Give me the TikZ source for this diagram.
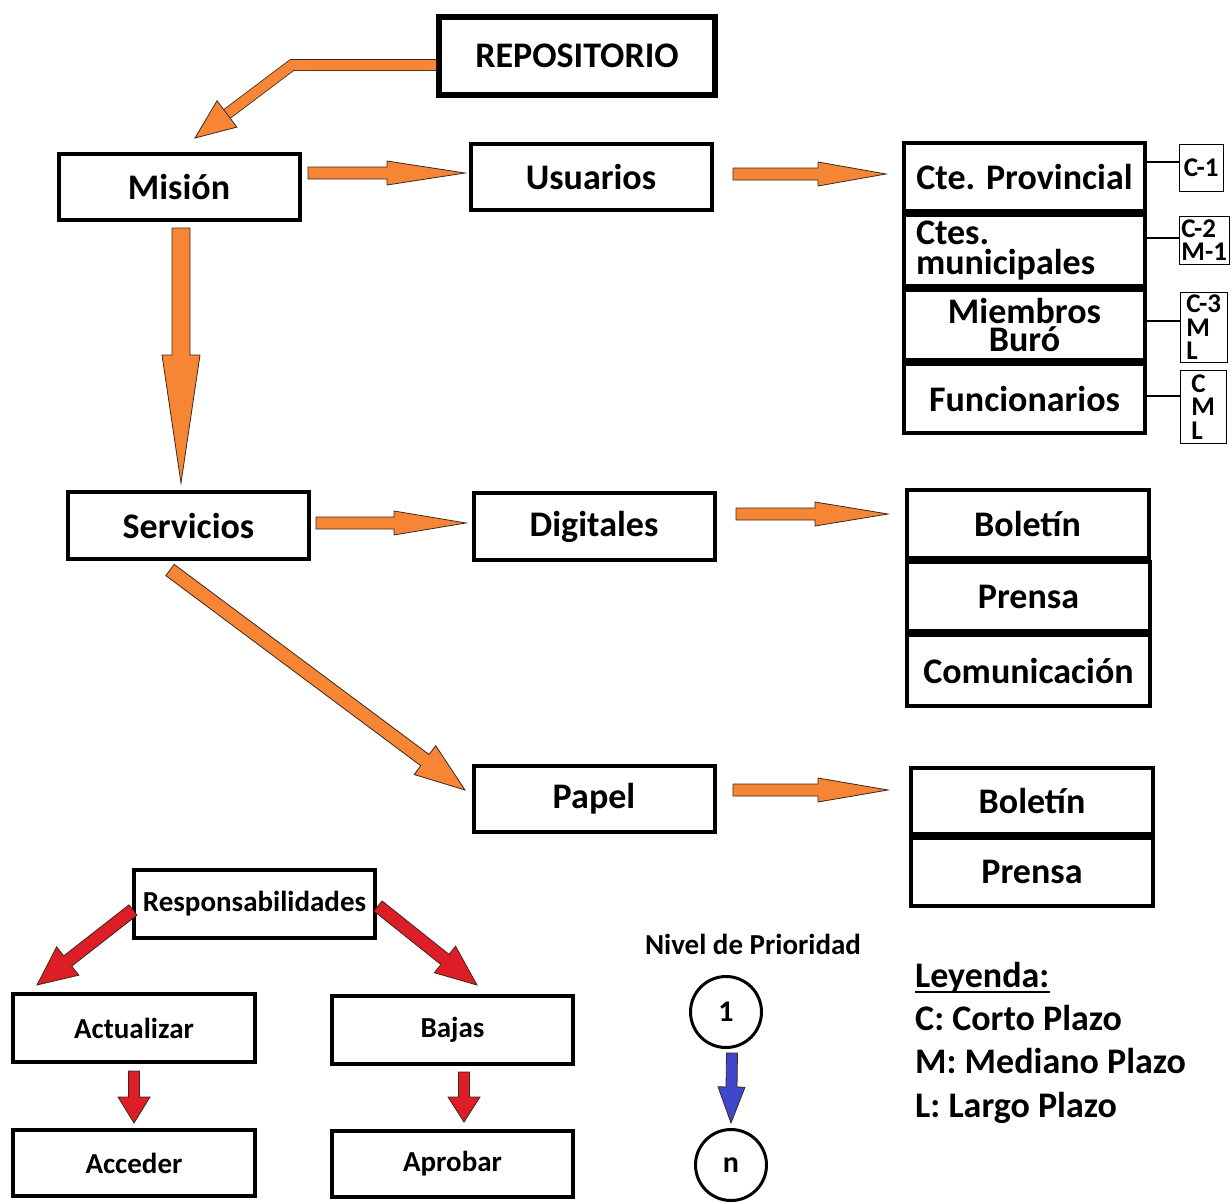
\documentclass[tikz,border=0pt]{standalone}
\usepackage{fontspec}
\setmainfont{Carlito}
\usetikzlibrary{calc}
\definecolor{aorange}{RGB}{246,134,54}
\definecolor{ared}{RGB}{222,30,38}
\definecolor{ablue}{RGB}{63,72,204}
\definecolor{arrowline}{RGB}{60,40,30}
% #1 start, #2 tip, #3 half shaft, #4 half head, #5 head length, #6 fill colour
\newcommand\blockarr[6]{%
  \coordinate (bah) at ($(#2)!#5!(#1)$);
  \filldraw[fill=#6, draw=arrowline, line width=0.8pt, line join=miter]
    ($(#1)!#3!90:(#2)$) -- ($(bah)!#3!-90:(#1)$) -- ($(bah)!#4!-90:(#1)$) -- (#2)
    -- ($(bah)!#4!90:(#1)$) -- ($(bah)!#3!90:(#1)$) -- ($(#1)!#3!-90:(#2)$) -- cycle;
}
\tikzset{
  box/.style={draw, line width=4pt, inner sep=0pt, align=center,
    minimum width=241pt, minimum height=66pt,
    font=\fontsize{36}{30}\selectfont\bfseries},
  sbox/.style={box, font=\fontsize{29}{30}\selectfont\bfseries},
  lab/.style={draw, line width=1.2pt, inner sep=0pt, align=left, anchor=north west,
    font=\fontsize{27}{23.5}\selectfont\bfseries},
  sep/.style={line width=7pt},
  prio/.style={circle, draw, line width=3pt, minimum size=71pt, inner sep=0pt,
    font=\fontsize{30}{32}\selectfont\bfseries},
  legend/.style={anchor=base west, inner sep=0pt, font=\fontsize{36}{40}\selectfont\bfseries},
}
\begin{document}
\begin{tikzpicture}[x=1pt,y=-1pt]
\useasboundingbox[fill=white] (0,0) rectangle (1232,1202);

% ---- top part
\node[box, line width=6pt, minimum width=276pt, minimum height=78pt] (rep) at (577,56) {REPOSITORIO};
\node[box] (mision) at (179,187) {Misión};
\node[box] (usuarios) at (591,177) {Usuarios};

\node[box, minimum height=68pt] (cte1) at (1024.5,177) {Cte. Provincial};
\node[box, minimum height=71pt, text width=217pt, align=left] (cte2) at (1024.5,250.5) {Ctes.\\municipales};
\node[box, minimum height=70pt, font=\fontsize{36}{28.5}\selectfont\bfseries] (cte3) at (1024.5,325) {Miembros\\Buró};
\node[box, minimum height=69pt] (cte4) at (1024.5,398.5) {Funcionarios};
\draw[sep] (cte1.south west) -- (cte1.south east);
\draw[sep] (cte2.south west) -- (cte2.south east);
\draw[sep] (cte3.south west) -- (cte3.south east);

\node[lab, minimum width=44pt, minimum height=47pt] (l1) at (1178.6,143.6) {C-1};
\node[lab, minimum width=50pt, minimum height=48pt] (l2) at (1178.6,215.6) {C-2\\M-1};
\node[lab, minimum width=47pt, minimum height=70pt] (l3) at (1179.6,291.6) {C-3\\M\\L};
\node[lab, minimum width=46pt, minimum height=73pt] (l4) at (1179.6,369.6) {C\\M\\L};
\draw[line width=1.2pt] (cte1.east |- 0,162) -- (l1.west |- 0,162);
\draw[line width=1.2pt] (cte2.east |- 0,238) -- (l2.west |- 0,238);
\draw[line width=1.2pt] (cte3.east |- 0,321) -- (l3.west |- 0,321);
\draw[line width=1.2pt] (cte4.east |- 0,396) -- (l4.west |- 0,396);

% ---- middle part
\node[box, minimum height=67pt] (servicios) at (188.5,525.5) {Servicios};
\node[box, minimum height=67pt] (digitales) at (594,526.5) {Digitales};
\node[box, minimum width=242pt, minimum height=68pt] (bol1) at (1027.5,524) {Boletín};
\node[box, minimum width=243pt, minimum height=69pt] (pre1) at (1028.5,596.5) {Prensa};
\node[box, minimum width=243pt, minimum height=71pt] (com) at (1028.5,670.5) {Comunicación};
\draw[sep] (bol1.south west) -- (bol1.south east);
\draw[sep] (pre1.south west) -- (pre1.south east);

\node[box, minimum height=66pt] (papel) at (594,799) {Papel};
\node[box, minimum width=242pt, minimum height=66pt] (bol2) at (1032,801) {Boletín};
\node[box, minimum width=242pt, minimum height=68pt] (pre2) at (1032,872) {Prensa};
\draw[sep] (bol2.south west) -- (bol2.south east);

% ---- bottom part
\node[sbox, minimum height=68pt] (resp) at (254.5,904) {Responsabilidades};
\node[sbox, minimum width=242pt, minimum height=68pt] (act) at (134,1028) {Actualizar};
\node[sbox, minimum height=68pt] (bajas) at (452.5,1030) {Bajas};
\node[sbox, minimum width=242pt, minimum height=66pt] (acc) at (134,1163) {Acceder};
\node[sbox, minimum height=66pt] (apr) at (452.5,1164) {Aprobar};

\node[inner sep=0pt, font=\fontsize{29}{30}\selectfont\bfseries] (nivel) at (753,944) {Nivel de Prioridad};
\node[prio] (p1) at (726,1012) {1};
\node[prio] (pn) at (731,1165) {n};

\node[legend] (leg0) at (915,987) {Leyenda:};
\draw[line width=2.6pt] ([yshift=-5pt]leg0.base west) -- ([yshift=-5pt]leg0.base east);
\node[legend] (leg1) at (915,1030) {C: Corto Plazo};
\node[legend] (leg2) at (915,1073) {M: Mediano Plazo};
\node[legend] (leg3) at (915,1117) {L: Largo Plazo};

% ---- connector end points
\coordinate (a1s) at (308,173);  \coordinate (a1t) at (465,173);
\coordinate (a2s) at (733,174);  \coordinate (a2t) at (886,174);
\coordinate (a3s) at (181,228);  \coordinate (a3t) at (181,483);
\coordinate (a4s) at (316,523);  \coordinate (a4t) at (466,523);
\coordinate (a5s) at (736,514);  \coordinate (a5t) at (888,514);
\coordinate (a6s) at (170,570);  \coordinate (a6t) at (465,790);
\coordinate (a7s) at (733,790);  \coordinate (a7t) at (888,790);
\coordinate (r1s) at (133,910);  \coordinate (r1t) at (37,985);
\coordinate (r2s) at (378,906);  \coordinate (r2t) at (477,985);
\coordinate (r3s) at (134,1071); \coordinate (r3t) at (134,1123);
\coordinate (r4s) at (464,1072); \coordinate (r4t) at (464,1122);
\coordinate (b1s) at (732,1053); \coordinate (b1t) at (731,1123);
\coordinate (rs) at (436,65);    \coordinate (rb) at (292,65);  \coordinate (rt) at (195,138);

% ---- orange arrows
\blockarr{a1s}{a1t}{6pt}{12pt}{78pt}{aorange}
\blockarr{a2s}{a2t}{6pt}{12pt}{68pt}{aorange}
\blockarr{a3s}{a3t}{9pt}{19pt}{128pt}{aorange}
\blockarr{a4s}{a4t}{6pt}{12pt}{72pt}{aorange}
\blockarr{a5s}{a5t}{6pt}{12pt}{73pt}{aorange}
\blockarr{a6s}{a6t}{7pt}{18pt}{50pt}{aorange}
\blockarr{a7s}{a7t}{6pt}{12pt}{70pt}{aorange}

% bent arrow from REPOSITORIO to Mision
\coordinate (rhb) at ($(rt)!40pt!(rb)$);
\draw[line width=11.6pt, arrowline, line join=miter] (rs) -- (rb) -- (rhb);
\draw[line width=10pt, aorange, line join=miter] (rs) -- (rb) -- (rhb);
\filldraw[fill=aorange, draw=arrowline, line width=0.8pt, line join=miter]
  ($(rhb)!16.5pt!90:(rt)$) -- (rt) -- ($(rhb)!16.5pt!-90:(rt)$) -- cycle;

% ---- red arrows
\blockarr{r1s}{r1t}{6.5pt}{18pt}{39pt}{ared}
\blockarr{r2s}{r2t}{6.5pt}{17pt}{41pt}{ared}
\blockarr{r3s}{r3t}{5.5pt}{16pt}{26pt}{ared}
\blockarr{r4s}{r4t}{5.5pt}{16pt}{25pt}{ared}

% ---- blue arrow
\blockarr{b1s}{b1t}{5.5pt}{13.5pt}{36pt}{ablue}
\end{tikzpicture}
\end{document}
